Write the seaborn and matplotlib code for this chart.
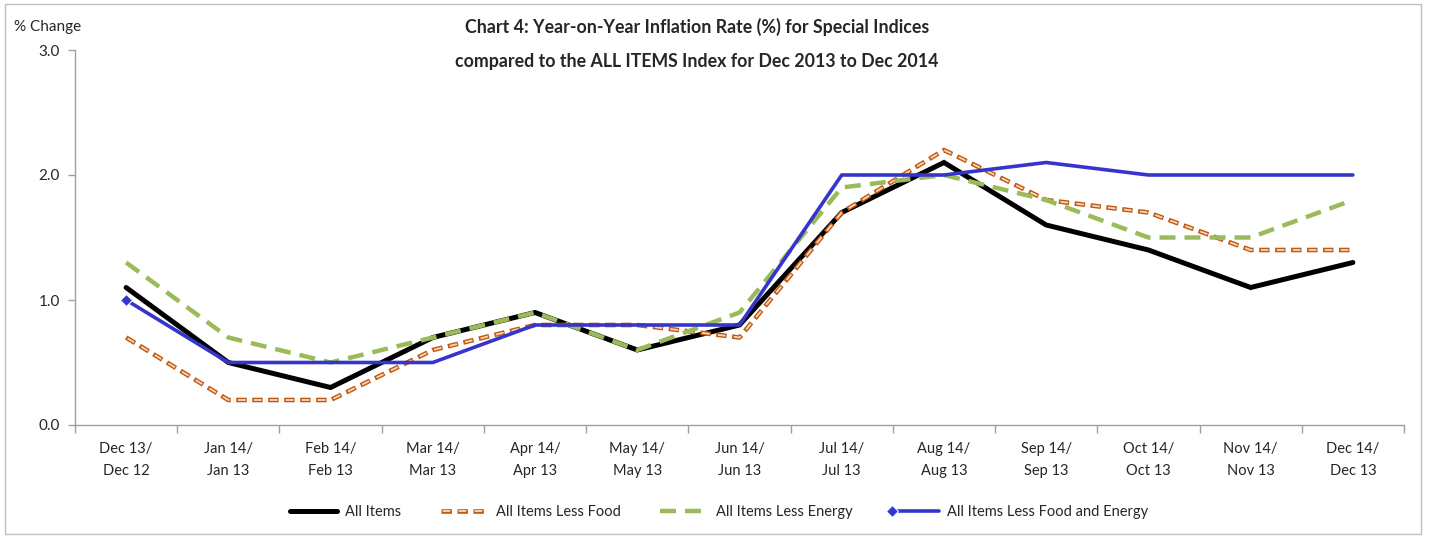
import matplotlib
matplotlib.use("Agg")
import matplotlib.pyplot as plt
import seaborn as sns
import pandas as pd
import numpy as np
from matplotlib.patches import Rectangle
from matplotlib.legend_handler import HandlerLine2D

categories = ["Dec 13/\nDec 12", "Jan 14/\nJan 13", "Feb 14/\nFeb 13", "Mar 14/\nMar 13",
              "Apr 14/\nApr 13", "May 14/\nMay 13", "Jun 14/\nJun 13", "Jul 14/\nJul 13",
              "Aug 14/\nAug 13", "Sep 14/\nSep 13", "Oct 14/\nOct 13", "Nov 14/\nNov 13",
              "Dec 14/\nDec 13"]
all_items = [1.1, 0.5, 0.3, 0.7, 0.9, 0.6, 0.8, 1.7, 2.1, 1.6, 1.4, 1.1, 1.3]
less_food = [0.7, 0.2, 0.2, 0.6, 0.8, 0.8, 0.7, 1.7, 2.2, 1.8, 1.7, 1.4, 1.4]
less_energy = [1.3, 0.7, 0.5, 0.7, 0.9, 0.6, 0.9, 1.9, 2.0, 1.8, 1.5, 1.5, 1.8]
less_food_energy = [1.0, 0.5, 0.5, 0.5, 0.8, 0.8, 0.8, 2.0, 2.0, 2.1, 2.0, 2.0, 2.0]
y_ticks = [0.0, 1.0, 2.0, 3.0]

sns.set_theme(style="white")
plt.rcParams['font.family'] = ['Lato', 'DejaVu Sans']
plt.rcParams['lines.scale_dashes'] = False

df = pd.DataFrame({"x": np.arange(len(categories)),
                   "all": all_items, "food": less_food,
                   "energy": less_energy, "fe": less_food_energy})

fig = plt.figure(figsize=(14.29, 5.38), dpi=100)
ax = fig.add_axes([75/1429, 1-425/538, (1404-75)/1429, (425-50)/538])

sns.lineplot(data=df, x="x", y="all", ax=ax, color="black", lw=3.6, label="_a")
l_all = ax.lines[-1]
l_all.set_solid_joinstyle("miter")

sns.lineplot(data=df, x="x", y="food", ax=ax, color="#C0590F", lw=3.3, label="_b")
l_food_o = ax.lines[-1]
l_food_o.set_linestyle((0, (7.5, 4.0)))
l_food_o.set_dash_capstyle("butt")
sns.lineplot(data=df, x="x", y="food", ax=ax, color="#FBD5BA", lw=1.3, label="_c")
l_food_i = ax.lines[-1]
l_food_i.set_linestyle((10.3, (5.5, 6.0)))
l_food_i.set_dash_capstyle("butt")

sns.lineplot(data=df, x="x", y="energy", ax=ax, color="#9BBB59", lw=3.2, label="_d")
l_en = ax.lines[-1]
l_en.set_linestyle((0, (11.5, 6.5)))
l_en.set_dash_capstyle("butt")

sns.lineplot(data=df, x="x", y="fe", ax=ax, color="#3535CC", lw=2.6, label="_e",
             marker="D", markersize=6, markevery=[0])
l_fe = ax.lines[-1]

ax.set_xlim(-0.5, len(categories) - 0.5)
ax.set_ylim(0, 3.0)
ax.set_yticks(y_ticks)
ax.set_yticklabels([f"{v:.1f}" for v in y_ticks], fontsize=11)
ax.set_xticks(np.arange(len(categories)))
ax.set_xticklabels(categories, fontsize=10.5, linespacing=1.75)
ax.set_xticks(np.arange(len(categories) + 1) - 0.5, minor=True)
ax.tick_params(axis="x", which="major", length=0, pad=12)
ax.tick_params(axis="x", which="minor", length=6, color="#A0A0A0", width=1, bottom=True)
ax.tick_params(axis="y", which="major", length=5, color="#A0A0A0", width=1, left=True, pad=6)
ax.set_xlabel("")
ax.set_ylabel("")
for s in ["top", "right"]:
    ax.spines[s].set_visible(False)
for s in ["left", "bottom"]:
    ax.spines[s].set_color("#A0A0A0")
    ax.spines[s].set_linewidth(1)
ax.grid(False)

fig.text(14/1429, 1-27/538, "% Change", fontsize=11, va="center", ha="left")
fig.text(697/1429, 1-27/538, "Chart 4: Year-on-Year Inflation Rate (%) for Special Indices",
         fontsize=12.8, fontweight="bold", ha="center", va="center")
fig.text(697/1429, 1-61/538, "compared to the ALL ITEMS Index for Dec 2013 to Dec 2014",
         fontsize=12.8, fontweight="bold", ha="center", va="center")


class LeftMarkerHandler(HandlerLine2D):
    def create_artists(self, legend, orig_handle, xdescent, ydescent, width, height,
                       fontsize, trans):
        arts = super().create_artists(legend, orig_handle, xdescent, ydescent, width,
                                      height, fontsize, trans)
        arts[-1].set_markevery([0])
        return arts


handles = [l_all, (l_food_o, l_food_i), l_en, l_fe]
labels = ["All Items", "All Items Less Food", "All Items Less Energy", "All Items Less Food and Energy"]
fig.legend(handles, labels, loc="center", bbox_to_anchor=(717/1429, 1-512/538), ncol=4,
           frameon=False, fontsize=10.5, handlelength=3.8, numpoints=2, columnspacing=2.4,
           handletextpad=0.3, handler_map={l_fe: LeftMarkerHandler(numpoints=2)})

fig.add_artist(Rectangle((5/1429, 4/538), 1416/1429, 530/538, transform=fig.transFigure,
                         fill=False, edgecolor="#BFBFBF", lw=1))

fig.savefig("out.png", dpi=100)
